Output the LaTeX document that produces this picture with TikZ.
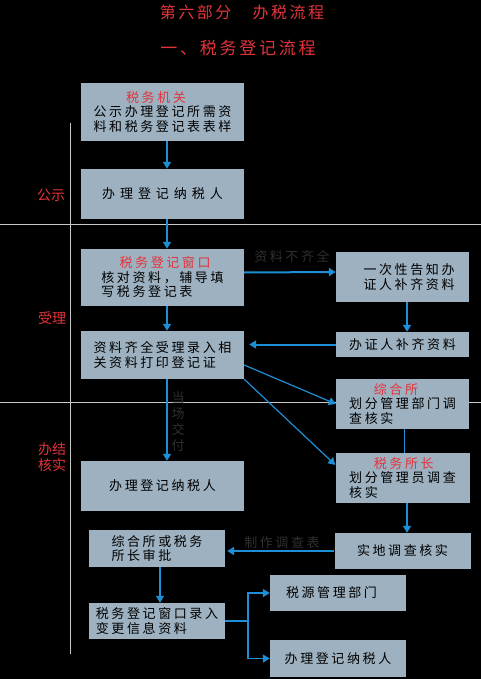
\documentclass[tikz,border=0pt]{standalone}
\usepackage{fontspec}
\setmainfont{Noto Sans CJK SC}
\newfontfamily\boxfont[LetterSpace=20]{Noto Sans CJK SC}
\newfontfamily\wideboxfont[LetterSpace=38]{Noto Sans CJK SC}
\newfontfamily\titlefont[LetterSpace=16]{Noto Sans CJK SC}
\usetikzlibrary{arrows.meta}
\definecolor{boxBlue}{HTML}{9DB1C0}
\definecolor{flowBlue}{HTML}{1E8FD6}
\definecolor{headRed}{HTML}{E3343B}
\definecolor{noteGray}{HTML}{303030}
\definecolor{laneGray}{HTML}{C8C8C8}
\tikzset{
  stepBox/.style 2 args={fill=boxBlue,inner sep=0pt,align=left,minimum width=#1,minimum height=#2,
    font=\boxfont\fontsize{13}{14.5}\selectfont},
  flow/.style={draw=flowBlue,line width=2pt,-{Triangle[length=7pt,width=8pt]}},
  thinFlow/.style={draw=flowBlue,line width=1.2pt,-{Triangle[length=7pt,width=8pt]}},
  flowLine/.style={draw=flowBlue,line width=1.2pt},
  laneLine/.style={draw=laneGray,line width=0.8pt},
  laneText/.style={text=headRed,align=center,font=\fontsize{14}{16}\selectfont},
  noteText/.style={text=noteGray,align=center,font=\boxfont\fontsize{13}{16}\selectfont},
  titleText/.style={text=headRed,font=\titlefont\fontsize{16}{18}\selectfont}
}
\newcommand{\headline}[1]{\textcolor{headRed}{#1}}

\begin{document}
\begin{tikzpicture}[x=1pt,y=-1pt]
  \fill[black] (0,0) rectangle (481,679);
  \useasboundingbox (0,0) rectangle (481,679);
  % titles
  \node[titleText] (title) at (242,12) {第六部分　办税流程};
  \node[titleText,font=\titlefont\fontsize{17}{19}\selectfont] (subtitle) at (238,48) {一、税务登记流程};
  % lanes
  \draw[laneLine] (0,224) -- (481,224);
  \draw[laneLine] (0,402) -- (481,402);
  \draw[laneLine] (70,123) -- (70,654);
  \node[laneText] (laneA) at (51,195) {公示};
  \node[laneText] (laneB) at (52,318) {受理};
  \node[laneText] (laneC) at (52,457) {办结\\核实};
  % steps
  \node[stepBox={163pt}{58pt}] (B1) at (162.5,112) {\hspace*{2.5em}\headline{税务机关}\\公示办理登记所需资\\料和税务登记表表样};
  \node[stepBox={163pt}{50pt},font=\wideboxfont\fontsize{13}{14.5}\selectfont] (B2) at (162.5,194) {办理登记纳税人};
  \node[stepBox={163pt}{57pt}] (B3) at (162.5,277.5) {\hspace*{1.4em}\headline{税务登记窗口}\\核对资料，辅导填\\写税务登记表};
  \node[stepBox={163pt}{48pt}] (B4) at (162.5,355) {资料齐全受理录入相\\关资料打印登记证};
  \node[stepBox={133pt}{50pt}] (B5) at (402.5,277) {\hspace*{1em}一次性告知办\\\hspace*{1em}证人补齐资料};
  \node[stepBox={133pt}{25pt}] (B6) at (402.5,344.5) {办证人补齐资料};
  \node[stepBox={133pt}{50pt}] (B7) at (402.5,404) {\hspace*{1.9em}\headline{综合所}\\划分管理部门调\\查核实};
  \node[stepBox={134pt}{50pt}] (B8) at (402.5,478) {\hspace*{1.9em}\headline{税务所长}\\划分管理员调查\\核实};
  \node[stepBox={163pt}{50pt}] (B9) at (162.5,486) {办理登记纳税人};
  \node[stepBox={136pt}{36pt}] (B10) at (402.5,551) {实地调查核实};
  \node[stepBox={136pt}{37pt}] (B11) at (157,548.5) {综合所或税务\\所长审批};
  \node[stepBox={136pt}{36pt}] (B12) at (157,621) {税务登记窗口录入\\变更信息资料};
  \node[stepBox={136pt}{36pt}] (B13) at (338,593) {税源管理部门\hspace*{1em}};
  \node[stepBox={136pt}{37pt}] (B14) at (338,658.5) {办理登记纳税人};
  % notes
  \node[noteText] (missing) at (292,256) {资料不齐全};
  \node[noteText] (handOver) at (178,422) {当\\场\\交\\付};
  \node[noteText] (survey) at (282,543) {制作调查表};
  % arrows
  \foreach \a/\b in {B1/B2,B2/B3,B3/B4,B4/B9,B5/B6,B8/B10}
    \draw[flow] ([xshift=4.5pt]\a.south) -- ([xshift=4.5pt]\b.north);
  \draw[flow] ([yshift=5pt]B3.east) -- ([yshift=5pt]B5.west);
  \draw[flow,shorten >=5pt] (B6.west) -- (B6.west -| B4.east);
  \draw[thinFlow] (B4.-7) -- (B7.west);
  \draw[thinFlow] (B4.south east) -- (B8.169);
  \draw[flowLine] ([xshift=2pt]B7.south) -- ([xshift=2pt]B8.north);
  \draw[flow,shorten >=2pt] (B10.west) -- (B10.west -| B11.east);
  \draw[thinFlow] ([xshift=3pt]B11.south) -- ([xshift=3pt]B12.north);
  \coordinate (fork) at (248,621);
  \draw[flowLine] (B12.east) -- (fork);
  \foreach \t in {B13,B14}
    \draw[thinFlow] (fork) |- (\t.west);
\end{tikzpicture}
\end{document}
